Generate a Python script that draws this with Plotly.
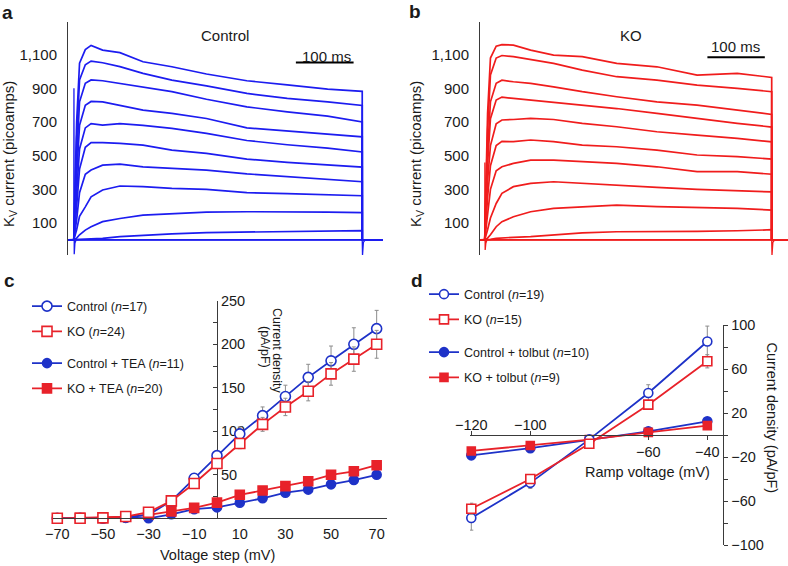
import plotly.graph_objects as go

W, H = 788, 566
FONT = "Liberation Sans, Arial, Helvetica, sans-serif"
TXT = "#1a1a1a"
AX = "#3a3a3a"
BLUE_TR = "#1c1cf0"
RED_TR = "#f01c1c"
BLUE = "#1e32c8"
RED = "#e8222a"
GREY = "#8c8c8c"

# ---------------- Panel a / b : Kv current traces (pA) ----------------
T_MS = [0, 5, 10, 20, 30, 50, 80, 120, 170, 230, 300, 370, 440, 500]
CONTROL_TRACES = [
    [0, 700, 1050, 1130, 1155, 1127, 1112, 1058, 1028, 985, 945, 920, 895, 882],
    [0, 600, 950, 1040, 1062, 1052, 1029, 989, 949, 915, 870, 840, 820, 798],
    [0, 480, 820, 930, 950, 945, 929, 909, 880, 835, 790, 760, 735, 700],
    [0, 380, 680, 800, 822, 820, 800, 771, 751, 721, 665, 645, 628, 612],
    [0, 280, 540, 665, 690, 682, 690, 680, 662, 632, 590, 565, 545, 522],
    [0, 200, 420, 550, 578, 577, 573, 563, 533, 514, 480, 460, 445, 432],
    [0, 120, 280, 390, 415, 444, 450, 434, 424, 414, 392, 375, 360, 345],
    [0, 60, 140, 196, 256, 296, 320, 316, 306, 300, 280, 275, 270, 262],
    [0, 10, 30, 58, 78, 108, 127, 147, 157, 165, 167, 167, 165, 162],
    [0, 0, 2, 4, 6, 9, 19, 27, 35, 43, 46, 50, 56, 55],
    [0, 0, 0, 0, 0, 0, 0, 0, 0, 0, 0, 0, 0, 0],
]
KO_TRACES = [
    [0, 750, 1080, 1150, 1160, 1157, 1127, 1097, 1088, 1048, 1028, 979, 989, 965],
    [0, 650, 980, 1080, 1095, 1088, 1072, 1048, 1008, 969, 949, 919, 900, 880],
    [0, 520, 820, 930, 948, 939, 929, 909, 880, 850, 820, 800, 771, 745],
    [0, 450, 720, 830, 848, 840, 830, 820, 800, 780, 751, 721, 692, 670],
    [0, 350, 560, 690, 712, 715, 721, 715, 692, 672, 642, 622, 603, 582],
    [0, 250, 440, 560, 585, 583, 593, 583, 563, 553, 533, 504, 494, 480],
    [0, 150, 300, 410, 434, 454, 474, 474, 464, 454, 434, 405, 405, 390],
    [0, 60, 130, 216, 276, 316, 335, 345, 335, 325, 312, 300, 292, 285],
    [0, 10, 30, 78, 108, 137, 167, 187, 197, 206, 197, 193, 187, 177],
    [0, 0, 3, 9, 12, 15, 19, 28, 42, 48, 48, 50, 54, 60],
    [0, 0, 0, 0, 0, 0, 0, 0, 0, 0, 0, 0, 0, 0],
]
# capacitive transients at pulse on/off
ART_T = [0, 0.3, 0.8, 2, 4, 500, 500.5, 502, 505]
CONTROL_ART = [0, 900, -85, -20, 0, 0, -90, -15, 0]
KO_ART = [0, 460, -60, -20, 0, 0, -90, -15, 0]
T_START_A, T_END_A = -10, 536
T_START_B, T_END_B = -8, 528
SCALEBAR_MS = 100

# ---------------- Panel c : I-V steps ----------------
V_STEP = [-70, -60, -50, -40, -30, -20, -10, 0, 10, 20, 30, 40, 50, 60, 70]
C_CTRL = [0, 0, 0, 1, 4, 20, 46, 72, 97, 118, 140, 162, 181, 200, 218]
C_CTRL_ERR = [0.5, 0.5, 0.5, 0.5, 1, 3, 4, 5, 8, 10, 13, 15, 17, 19, 21]
C_KO = [0, 0, 0.5, 2, 7, 20, 40, 63, 86, 108, 128, 146, 166, 183, 200]
C_KO_ERR = [0.5, 0.5, 0.5, 0.5, 1, 3, 4, 4, 6, 8, 10, 11, 13, 14, 16]
C_CTRL_TEA = [0, 0, 0.5, 1, 0, 4.6, 10.5, 12.6, 18, 23, 29.5, 33, 39, 44, 50]
C_CTRL_TEA_ERR = [0.3, 0.3, 0.3, 0.3, 0.5, 1, 1, 1.5, 1.5, 2, 2, 2, 2.5, 2.5, 3]
C_KO_TEA = [0, 0.5, 1, 2, 4, 8, 12, 18, 27, 32, 37, 42.5, 50, 54, 61]
C_KO_TEA_ERR = [0.3, 0.3, 0.3, 0.3, 0.5, 1, 1, 1.5, 2, 2, 2, 2.5, 2.5, 3, 3.5]
C_NAMES = ["Control (<i>n</i>=17)", "KO (<i>n</i>=24)",
           "Control + TEA (<i>n</i>=11)", "KO + TEA (<i>n</i>=20)"]

# ---------------- Panel d : ramp ----------------
V_RAMP = [-120, -100, -80, -60, -40]
D_CTRL = [-75.5, -43.5, -4, 38.2, 85]
D_CTRL_ERR = [11, 5, 2, 7.5, 14]
D_KO = [-67, -40, -8, 27.6, 67]
D_KO_ERR = [5, 3, 2, 3, 6]
D_CTRL_TOL = [-18.5, -12, -4.5, 3.3, 12.4]
D_CTRL_TOL_ERR = [1.5, 1.5, 1, 1, 3]
D_KO_TOL = [-14.5, -9.5, -4.2, 2.4, 8.5]
D_KO_TOL_ERR = [1, 1, 1, 1, 1.5]
D_NAMES = ["Control (<i>n</i>=19)", "KO (<i>n</i>=15)",
           "Control + tolbut (<i>n</i>=10)", "KO + tolbut (<i>n</i>=9)"]


def xf(px):
    return px / W


def yf(py):
    return 1 - py / H


fig = go.Figure()

# ---- current traces ----
for traces, art, xa, ya, col, t0, t1 in [
    (CONTROL_TRACES, CONTROL_ART, "x", "y", BLUE_TR, T_START_A, T_END_A),
    (KO_TRACES, KO_ART, "x2", "y2", RED_TR, T_START_B, T_END_B),
]:
    fig.add_trace(go.Scatter(x=[t0] + ART_T + [t1], y=[0] + art + [0], mode="lines",
                             line=dict(color=col, width=1.3), xaxis=xa, yaxis=ya,
                             showlegend=False, hoverinfo="skip"))
    for tr in traces:
        fig.add_trace(go.Scatter(x=[t0] + T_MS + [T_MS[-1], t1], y=[0] + tr + [0, 0],
                                 mode="lines", line=dict(color=col, width=1.7),
                                 xaxis=xa, yaxis=ya, showlegend=False, hoverinfo="skip"))


def iv_trace(x, y, err, name, col, open_, sym, size, xa, ya, leg, grp):
    return go.Scatter(
        x=x, y=y, name=name, mode="lines+markers", xaxis=xa, yaxis=ya,
        legend=leg, legendgroup=grp, cliponaxis=False,
        line=dict(color=col, width=1.8),
        marker=dict(symbol=sym, size=size, color="white" if open_ else col,
                    line=dict(color=col, width=1.6)),
        error_y=dict(type="data", array=err, color=GREY, thickness=1, width=2),
        hoverinfo="skip")


# ---- panel c ----
fig.add_trace(iv_trace(V_STEP, C_CTRL_TEA, C_CTRL_TEA_ERR, C_NAMES[2], BLUE, False, "circle", 9, "x3", "y3", "legend2", "c3"))
fig.add_trace(iv_trace(V_STEP, C_KO_TEA, C_KO_TEA_ERR, C_NAMES[3], RED, False, "square", 9, "x3", "y3", "legend2", "c4"))
fig.add_trace(iv_trace(V_STEP, C_CTRL, C_CTRL_ERR, C_NAMES[0], BLUE, True, "circle", 10, "x3", "y3", "legend", "c1"))
fig.add_trace(iv_trace(V_STEP, C_KO, C_KO_ERR, C_NAMES[1], RED, True, "square", 10, "x3", "y3", "legend", "c2"))

# ---- panel d ----
fig.add_trace(iv_trace(V_RAMP, D_CTRL_TOL, D_CTRL_TOL_ERR, D_NAMES[2], BLUE, False, "circle", 9, "x4", "y4", "legend4", "d3"))
fig.add_trace(iv_trace(V_RAMP, D_KO_TOL, D_KO_TOL_ERR, D_NAMES[3], RED, False, "square", 8, "x4", "y4", "legend4", "d4"))
fig.add_trace(iv_trace(V_RAMP, D_CTRL, D_CTRL_ERR, D_NAMES[0], BLUE, True, "circle", 9, "x4", "y4", "legend3", "d1"))
fig.add_trace(iv_trace(V_RAMP, D_KO, D_KO_ERR, D_NAMES[1], RED, True, "square", 9, "x4", "y4", "legend3", "d2"))

tickfont = dict(family=FONT, size=15, color=TXT)
kv_y = dict(range=[-90, 1294], domain=[yf(255), yf(22)], showline=True, linecolor=AX,
            linewidth=1, tickvals=[100, 300, 500, 700, 900, 1100], tickformat=",",
            ticks="", ticklabelstandoff=7, showgrid=False, zeroline=False, tickfont=tickfont)

leg_common = dict(xanchor="left", yanchor="top", bgcolor="rgba(0,0,0,0)",
                  font=dict(family=FONT, size=12.5, color=TXT), tracegroupgap=6,
                  itemwidth=30, traceorder="grouped")

fig.update_layout(
    width=W, height=H, margin=dict(l=0, r=0, t=0, b=0, autoexpand=False),
    paper_bgcolor="white", plot_bgcolor="rgba(0,0,0,0)",
    font=dict(family=FONT, color=TXT), hovermode=False,
    xaxis=dict(domain=[xf(68), xf(383)], range=[T_START_A, T_END_A], visible=False),
    yaxis=dict(anchor="x", **kv_y),
    xaxis2=dict(domain=[xf(480), 1.0], range=[-8.2, 528.4], visible=False),
    yaxis2=dict(anchor="x2", **kv_y),
    xaxis3=dict(domain=[xf(53.3), xf(386.7)], range=[-71.75, 74.4], anchor="y3",
                showline=True, linecolor=AX, linewidth=1, tickvals=list(range(-70, 71, 20)),
                ticks="", ticklabelstandoff=2, showgrid=False, zeroline=False,
                tickfont=dict(family=FONT, size=14.5, color=TXT)),
    yaxis3=dict(domain=[yf(518.3), yf(300.8)], range=[0, 250], anchor="free",
                position=xf(217), side="right", showline=True, linecolor=AX, linewidth=1,
                tickvals=[50, 100, 150, 200, 250], ticks="inside", ticklen=4, tickcolor=AX,
                minor=dict(dtick=25, tick0=0, ticks="inside", ticklen=4, tickcolor=AX),
                showgrid=False, zeroline=False, layer="below traces",
                tickfont=dict(family=FONT, size=14.5, color=TXT)),
    xaxis4=dict(domain=[xf(470), xf(723.3)], range=[-120.44, -34.58], anchor="free",
                position=yf(435.3), side="top", showline=True, linecolor=AX, linewidth=1,
                tickvals=[-120, -100], ticks="outside", ticklen=4, tickcolor=AX,
                ticklabelstandoff=-4, showgrid=False, zeroline=False,
                tickfont=dict(family=FONT, size=14.5, color=TXT)),
    xaxis5=dict(domain=[xf(470), xf(723.3)], range=[-120.44, -34.58], anchor="free",
                overlaying="x4", position=yf(435.3), side="bottom", showline=False,
                tickvals=[-60, -40], ticks="outside", ticklen=4, tickcolor=AX,
                ticklabelstandoff=-1, showgrid=False, zeroline=False,
                tickfont=dict(family=FONT, size=14.5, color=TXT)),
    yaxis4=dict(domain=[yf(545), yf(325)], range=[-100, 100], anchor="x4", side="right",
                showline=True, linecolor=AX, linewidth=1,
                tickvals=[100, 60, 20, -20, -60, -100], ticks="outside", ticklen=4, tickcolor=AX,
                minor=dict(dtick=20, tick0=0, ticks="outside", ticklen=4, tickcolor=AX),
                showgrid=False, zeroline=False, tickfont=dict(family=FONT, size=14.5, color=TXT)),
    legend=dict(x=xf(27), y=yf(291.5), **leg_common),
    legend2=dict(x=xf(27), y=yf(348.5), **leg_common),
    legend3=dict(x=xf(424), y=yf(279.5), **leg_common),
    legend4=dict(x=xf(424), y=yf(337.5), **leg_common),
)

# invisible helper trace so that xaxis5 is drawn
fig.add_trace(go.Scatter(x=[V_RAMP[0]], y=[None], xaxis="x5", yaxis="y4",
                         showlegend=False, hoverinfo="skip"))


def ann(px, py, text, size=14.5, angle=0):
    fig.add_annotation(x=xf(px), y=yf(py), xref="paper", yref="paper", text=text,
                       showarrow=False, textangle=angle, xanchor="center", yanchor="middle",
                       font=dict(family=FONT, size=size, color=TXT))


for px, py, t in [(7, 12.5, "a"), (415, 11.5, "b"), (9, 280, "c"), (416.5, 280, "d")]:
    ann(px, py, "<b>" + t + "</b>", size=19)
ann(225, 35, "Control", 15)
ann(630.7, 35, "KO", 15)
ann(326, 56, "100 ms", 15)
ann(735.6, 46.7, "100 ms", 15)
ann(10, 154, "K<sub>V</sub> current (picoamps)", 15, -90)
ann(417, 154, "K<sub>V</sub> current (picoamps)", 15, -90)
ann(277, 351, "Current density", 12.5, 90)
ann(265, 347, "(pA/pF)", 12.5, 90)
ann(217, 555, "Voltage step (mV)", 14.5)
ann(772, 417.5, "Current density (pA/pF)", 14.5, 90)
ann(647, 471.7, "Ramp voltage (mV)", 14.5)

# scale bars (100 ms)
fig.add_shape(type="line", xref="x", yref="y", x0=385, x1=385 + SCALEBAR_MS, y0=1054, y1=1054,
              line=dict(color="black", width=2))
fig.add_shape(type="line", xref="x2", yref="y2", x0=388, x1=388 + SCALEBAR_MS, y0=1084, y1=1084,
              line=dict(color="black", width=2))

fig.write_html("out.html", config={"displayModeBar": False},
               post_script="document.body.style.margin='0';")
